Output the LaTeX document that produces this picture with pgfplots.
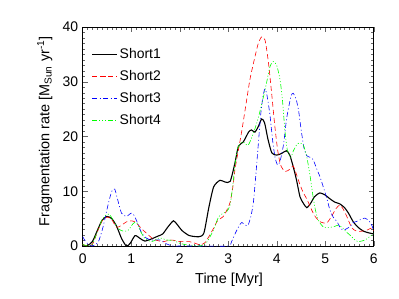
\documentclass[border=0pt]{standalone}
\usepackage{pgfplots}
\pgfplotsset{compat=1.18}
\usepackage{fontspec}
\setmainfont{Liberation Sans}
\begin{document}
\begin{tikzpicture}
\begin{axis}[
  scale only axis,
  width=291bp, height=219bp,
  xmin=0, xmax=6, ymin=0, ymax=40,
  xtick={0,1,2,3,4,5,6}, ytick={0,10,20,30,40},
  minor x tick num=9, minor y tick num=9,
  tick align=inside,
  major tick length=5bp, minor tick length=2.5bp,
  every tick/.style={black!60, line width=0.4pt},
  axis line style={black, line width=0.5pt},
  tick label style={font=\fontsize{14}{16}\selectfont},
  /pgf/number format/assume math mode=true,
  xticklabel style={yshift=-4.5bp},
  yticklabel style={xshift=-1bp},
  xlabel={Time [Myr]},
  ylabel={Fragmentation rate [M\textsubscript{Sun} yr\textsuperscript{-1}]},
  label style={font=\fontsize{14.5}{17}\selectfont},
  xlabel style={at={(axis description cs:0.503,-0.155)}, anchor=center},
  ylabel style={at={(axis description cs:-0.13,0.523)}, anchor=center, rotate=0},
  legend style={at={(0.03,0.9125)}, anchor=north west, draw=none, fill=none,
    font=\fontsize{14}{16}\selectfont, row sep=6.5bp, inner sep=0pt},
  legend cell align=left,
  legend image code/.code={\draw[#1] plot coordinates {(0bp,0bp) (12.5bp,0bp) (25bp,0bp)};},
  clip=true,
]
\addplot[forget plot, black, line width=1.1pt, smooth, tension=0.4] coordinates {
(0,0) (0.1,0.1) (0.2,0.8) (0.3,2.8) (0.4,4.7) (0.5,5.4) (0.6,5.0) (0.7,3.6) (0.8,1.4) (0.9,0)
(0.98,0.5) (1.08,1.9) (1.18,1.4) (1.28,0.9) (1.42,1.3) (1.55,1.8) (1.65,2.2) (1.75,3.4) (1.87,4.6)
(1.95,3.9) (2.05,2.8) (2.2,1.9) (2.4,1.7) (2.5,2.4) (2.6,7.0) (2.7,10.8) (2.83,12.0) (2.93,11.7)
(3.04,11.8) (3.14,15.2) (3.21,18.2) (3.31,19.0) (3.42,20.8) (3.48,21.2) (3.55,20.8) (3.62,21.8)
(3.69,23.2) (3.75,22.5) (3.82,19.5) (3.9,17.0) (4.0,16.6) (4.1,16.9) (4.2,17.4) (4.27,16.6)
(4.34,14.5) (4.41,12.0) (4.48,9.0) (4.55,7.8) (4.62,7.0) (4.7,7.8) (4.78,9.0) (4.89,9.7) (5.0,9.3)
(5.1,8.6) (5.2,8.0) (5.3,7.7) (5.4,7.0) (5.48,6.0) (5.58,4.4) (5.68,3.4) (5.79,2.7) (5.9,2.4) (6.0,2.2)
};
\addplot[forget plot, color=red, line width=0.6pt, dash pattern=on 5bp off 3bp, smooth, tension=0.4] coordinates {
(0,0.3) (0.1,0.0) (0.2,0.3) (0.3,2.5) (0.4,4.6) (0.5,5.3) (0.6,4.8) (0.7,3.4) (0.8,3.8) (0.9,4.4)
(1.0,4.6) (1.08,4.4) (1.15,3.8) (1.22,3.1) (1.32,2.3) (1.42,1.5) (1.5,1.1) (1.66,0.8) (1.8,1.1)
(1.9,1.0) (2.0,0.8) (2.2,0.8) (2.32,0.5) (2.42,0.2) (2.52,0.6) (2.6,1.7) (2.69,3.1) (2.78,4.6)
(2.9,5.4) (2.97,6.5) (3.04,8.0) (3.1,11.0) (3.14,14.0) (3.21,17.5) (3.28,21.0) (3.36,25.5)
(3.45,30.5) (3.55,34.5) (3.62,37.0) (3.69,38.2) (3.76,37.6) (3.83,33.5) (3.9,27.5) (3.96,22.0)
(4.02,17.5) (4.08,14.8) (4.17,13.6) (4.27,14.0) (4.34,14.6) (4.41,13.0) (4.48,11.2) (4.55,9.7)
(4.62,8.6) (4.72,6.6) (4.8,5.3) (4.9,4.4) (5.03,4.2) (5.13,5.4) (5.22,6.8) (5.3,7.5) (5.36,6.9)
(5.44,5.5) (5.55,3.3) (5.65,2.7) (5.75,2.7) (5.86,2.9) (5.96,3.3) (6.0,2.8)
};
\addplot[forget plot, color=blue, line width=0.6pt, dash pattern=on 5bp off 2.5bp on 1bp off 2.5bp, smooth, tension=0.4] coordinates {
(0,1.7) (0.08,0.6) (0.2,0.0) (0.32,0.7) (0.42,3.5) (0.53,7.8) (0.6,10.0) (0.66,10.4) (0.72,8.5)
(0.8,6.0) (0.9,5.4) (1.0,6.0) (1.06,5.6) (1.15,3.8) (1.22,2.3) (1.32,1.4) (1.42,1.1) (1.59,1.1)
(1.7,0.5) (1.85,0) (2.0,0) (2.5,0) (3.0,0) (3.07,0.8) (3.14,2.2) (3.22,3.6) (3.28,4.3) (3.36,3.8)
(3.41,3.8) (3.47,5.5) (3.52,8.0) (3.57,13.0) (3.62,18.5) (3.67,24.0) (3.72,27.5) (3.76,28.7)
(3.8,27.5) (3.86,24.0) (3.92,19.0) (3.97,16.0) (4.02,14.8) (4.07,15.5) (4.14,18.5) (4.2,23.0)
(4.25,25.5) (4.3,27.5) (4.34,27.9) (4.4,26.8) (4.45,24.8) (4.5,21.5) (4.56,18.0) (4.62,16.5)
(4.69,16.2) (4.75,15.8) (4.82,14.2) (4.89,12.7) (4.96,10.8) (5.03,8.8) (5.1,6.5) (5.17,5.2)
(5.24,4.5) (5.32,3.2) (5.38,2.9) (5.45,3.2) (5.51,3.5) (5.58,4.3) (5.65,4.5) (5.75,4.9) (5.82,5.1)
(5.9,4.6) (5.96,3.8) (6.0,2.8)
};
\addplot[forget plot, color=green, line width=0.6pt, dash pattern=on 5bp off 2bp on 1bp off 2bp on 1bp off 2bp on 1bp off 2bp, smooth, tension=0.4] coordinates {
(0,0.3) (0.1,0.0) (0.2,0.3) (0.3,2.6) (0.4,4.8) (0.5,5.8) (0.55,5.8) (0.63,4.7) (0.73,3.2)
(0.84,2.7) (0.94,2.9) (1.04,4.1) (1.11,4.3) (1.18,2.9) (1.28,1.4) (1.42,0.8) (1.52,1.2) (1.59,1.5)
(1.73,1.1) (1.87,1.0) (2.0,0.5) (2.15,0.2) (2.3,0.1) (2.42,0.0) (2.55,0.6) (2.69,2.8) (2.8,5.3)
(2.9,6.0) (2.97,6.3) (3.04,7.5) (3.1,11.5) (3.15,15.5) (3.2,18.0) (3.3,19.0) (3.41,18.4)
(3.52,20.6) (3.6,22.8) (3.66,24.8) (3.76,28.5) (3.86,32.7) (3.93,33.7) (4.0,33.0) (4.07,30.3)
(4.12,26.5) (4.17,21.0) (4.22,17.5) (4.29,16.2) (4.34,17.3) (4.42,18.6) (4.48,18.8) (4.55,18.4)
(4.62,16.3) (4.69,12.7) (4.75,9.0) (4.8,6.5) (4.86,4.7) (4.96,3.5) (5.1,3.4) (5.2,3.6) (5.27,3.8)
(5.35,3.4) (5.43,2.6) (5.51,2.0) (5.6,1.2) (5.68,0.8) (5.82,1.1) (5.96,2.0) (6.0,2.2)
};
\addlegendimage{draw=black, line width=1.1pt}
\addlegendentry{Short1}
\addlegendimage{color=red, line width=0.7pt, dash pattern=on 5bp off 3bp}
\addlegendentry{Short2}
\addlegendimage{color=blue, line width=0.7pt, dash pattern=on 5bp off 2.5bp on 1bp off 2.5bp}
\addlegendentry{Short3}
\addlegendimage{color=green, line width=0.7pt, dash pattern=on 5bp off 2bp on 1bp off 2bp on 1bp off 2bp on 1bp off 2bp}
\addlegendentry{Short4}
\end{axis}
\pgfresetboundingbox
\path[use as bounding box] (-82.7bp,-53bp) rectangle (316.3bp,246bp);
\end{tikzpicture}
\end{document}
